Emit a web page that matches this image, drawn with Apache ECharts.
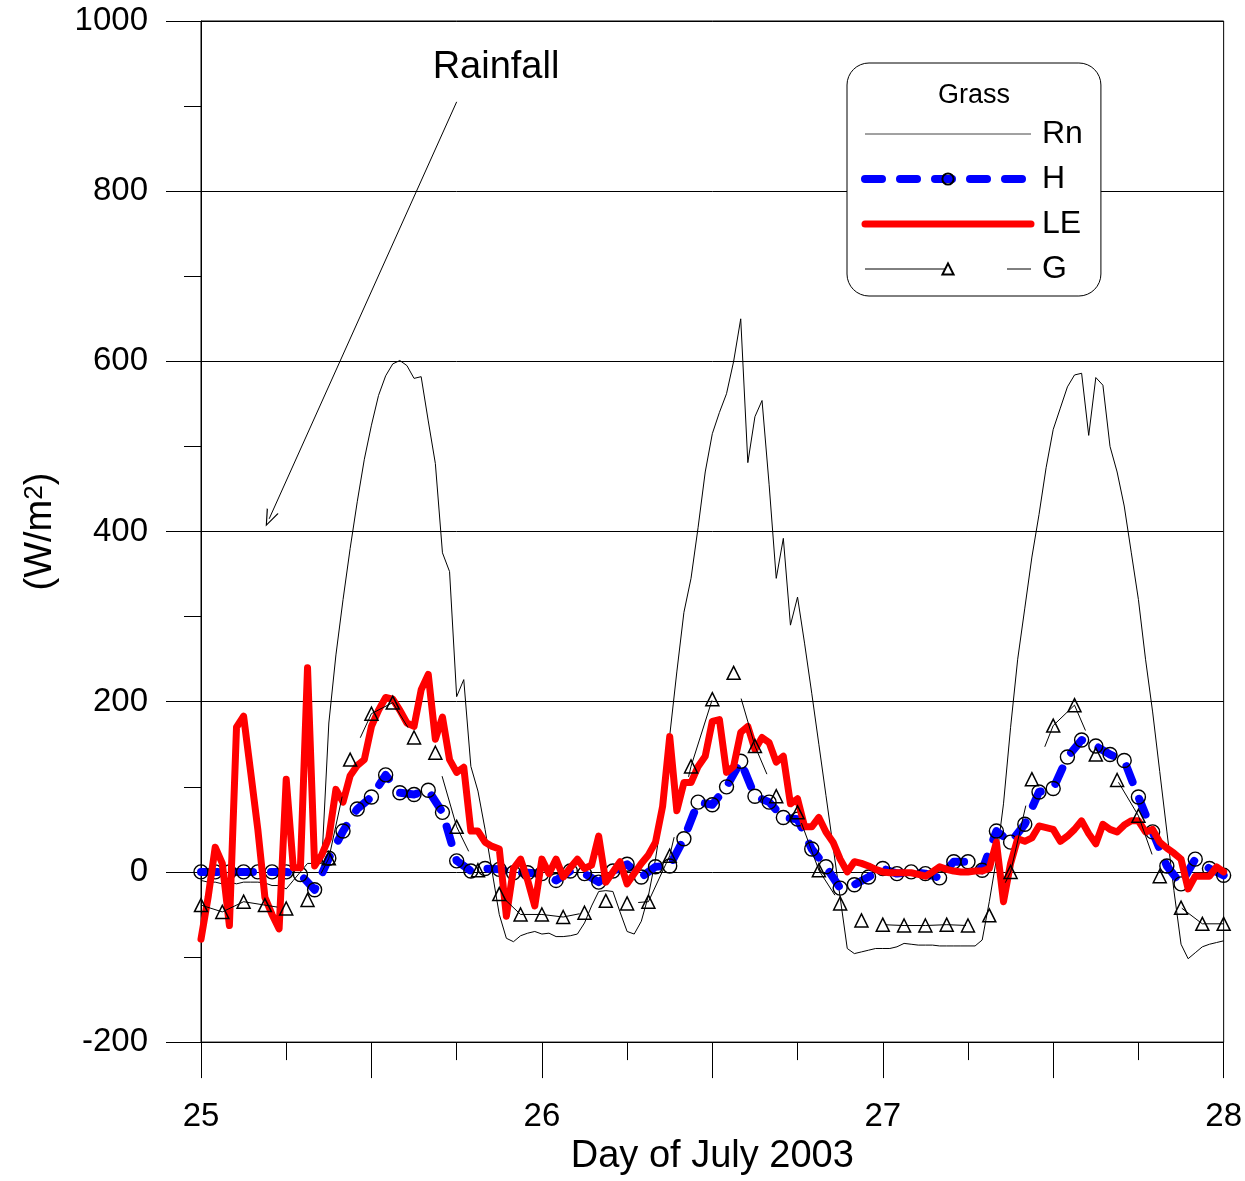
<!DOCTYPE html>
<html>
<head>
<meta charset="utf-8">
<title>Grass energy balance, July 2003</title>
<script src="https://cdn.jsdelivr.net/npm/echarts@6.0.0/dist/echarts.min.js"></script>
<style>
  html, body { margin: 0; padding: 0; background: #fff; }
  #chart { width: 1245px; height: 1181px; }
</style>
</head>
<body>
<div id="chart"></div>
<script>
// Day of July 2003, fluxes in W/m2
const dayStart = 25;
const xTicks = [25, 26, 27, 28];

// Rn and LE: half-hourly from 25.0 to 28.0
const rnValues = [
  -10, -12, -12, -14, -12, -14, -12, -12, -12, -13, -16, -16, -20, -10, 0, 10, 10, 10, 175, 255,
  320, 380, 435, 485, 525, 560, 583, 597, 601, 595, 580, 582, 530, 480, 375, 353, 206, 226, 124, 95,
  50, 0, -50, -78, -82, -75, -72, -70,
  -73, -72, -76, -76, -75, -73, -60, -40, -23, -22, -23, -47, -70, -73, -58, -28, 15, 70, 160, 235,
  305, 345, 405, 470, 515, 540, 562, 600, 650, 481, 535, 554, 455, 345, 392, 290, 323, 268, 210, 150,
  90, 30, -30, -90, -96, -94, -92, -90,
  -90, -90, -88, -84, -85, -86, -86, -86, -87, -87, -87, -87, -87, -87, -80, -35, 15, 80, 170, 250,
  310, 370, 420, 475, 520, 545, 570, 584, 586, 513, 581, 572, 500, 470, 430, 375, 320, 250, 188, 118,
  48, -22, -85, -102, -95, -88, -85, -83, -81
];
const leValues = [
  -79, -30, 29, 10, -63, 170, 183, 117, 50, -30, -50, -67, 109, 5, 5, 240, 7, 20, 40, 97,
  82, 113, 125, 132, 171, 190, 205, 203, 190, 175, 171, 214, 232, 156, 182, 132, 117, 123, 48, 48,
  35, 30, 27, -52, 4, 15, -10, -40,
  15, -2, 15, -6, 5, 15, 4, 8, 42, -12, 0, 12, -14, -2, 10, 20, 35, 77, 159, 72,
  105, 105, 124, 136, 177, 179, 117, 124, 164, 171, 144, 158, 152, 129, 136, 80, 86, 53, 53, 64,
  47, 35, 15, 0, 12, 10, 7, 3,
  0, -1, -1, -1, -1, -3, -5, 0, 6, 3, 1, 0, 0, 1, 1, 4, 35, -35, 10, 39,
  36, 40, 54, 52, 50, 36, 42, 50, 60, 45, 33, 56, 50, 47, 55, 60, 60, 47, 50, 35,
  28, 22, 15, -20, -5, -5, -5, 6, 0
];
// H: hourly
const hValues = [
  0, 0, 0, 0, 0, 0, 0, -3, -21, 16, 48, 74, 88, 114, 93, 91, 96, 70, 13, 1, 4, 3, -1, -1,
  -2, -10, 1, -2, -12, 1, 9, -6, 6, 7, 39, 82, 79, 100, 130, 89, 82, 64, 62, 27, 6, -19, -15, -6,
  4, -2, 0, -2, -7, 12, 12, 2, 48, 35, 56, 94, 98, 135, 155, 148, 138, 131, 88, 47, 7, -14, 15, 4, -4
];
// G: every 1.5 hours
const gValues = [
  -39, -47, -35, -39, -43, -33, 16, 132, 186, 199, 158, 140, 53, 2, -26, -50,
  -50, -53, -48, -34, -37, -35, 19, 124, 203, 234, 148, 89, 70, 2, -37, -57,
  -62, -63, -63, -62, -63, -51, 0, 109, 172, 196, 138, 108, 66, -5, -42, -61, -61
];
// rainfall arrow, from label to target (day, W/m2)
const rainArrow = [[25.75, 905], [25.2, 415]];

const toPairs = (vals, perDay) => vals.map((v, i) => [dayStart + i / perDay, v]);

const font = "'Liberation Sans', Arial, sans-serif";
const chart = echarts.init(document.getElementById('chart'));

const option = {
  animation: false,
  backgroundColor: '#fff',
  textStyle: { fontFamily: font, color: '#000' },
  grid: {
    left: 201, right: 21, top: 21, bottom: 136,
    show: true, borderColor: '#000', borderWidth: 1, backgroundColor: 'transparent'
  },
  xAxis: {
    type: 'value',
    min: 25, max: 28, interval: 0.5,
    name: 'Day of July 2003',
    nameLocation: 'middle',
    nameGap: 95,
    nameTextStyle: { fontSize: 38, fontFamily: font, color: '#000' },
    axisLine: { show: true, onZero: false, lineStyle: { color: '#000', width: 1 } },
    axisTick: { show: true, length: 36, lineStyle: { color: '#000' } },
    minorTick: { show: true, splitNumber: 2, length: 18, lineStyle: { color: '#000' } },
    splitLine: { show: false },
    axisLabel: {
      fontSize: 33, fontFamily: font, color: '#000', margin: 58,
      formatter: v => (xTicks.indexOf(v) >= 0 ? String(v) : '')
    }
  },
  yAxis: {
    type: 'value',
    min: -200, max: 1000, interval: 200,
    name: '(W/m{sup|2})',
    nameLocation: 'middle',
    nameRotate: 90,
    nameGap: 141,
    nameTextStyle: {
      fontSize: 38, fontFamily: font, color: '#000',
      rich: { sup: { fontSize: 26, fontFamily: font, color: '#000', verticalAlign: 'top' } }
    },
    axisLine: { show: true, lineStyle: { color: '#000', width: 1 } },
    axisTick: { show: true, length: 35, lineStyle: { color: '#000' } },
    minorTick: { show: true, splitNumber: 2, length: 17, lineStyle: { color: '#000' } },
    splitLine: { show: true, lineStyle: { color: '#000', width: 1 } },
    axisLabel: { fontSize: 33, fontFamily: font, color: '#000', margin: 53, formatter: v => String(v) }
  },
  legend: {
    data: [
      { name: 'Rn', itemStyle: { opacity: 0 }, lineStyle: { width: 1, color: '#444' } },
      { name: 'H', lineStyle: { width: 8 } },
      { name: 'LE', itemStyle: { opacity: 0 }, lineStyle: { width: 7 } },
      { name: 'G', lineStyle: { width: 1 } }
    ],
    orient: 'vertical',
    left: 847, top: 63,
    padding: [55, 18, 11, 14],
    itemWidth: 166, itemHeight: 14, itemGap: 13,
    selectedMode: false,
    backgroundColor: '#fff',
    borderColor: '#000', borderWidth: 1, borderRadius: 22,
    textStyle: { fontSize: 32, fontFamily: font, color: '#000', padding: [0, 0, 0, 6] }
  },
  graphic: [
    { type: 'text', x: 974, y: 96, z: 100,
      style: { text: 'Grass', fontSize: 27, fontFamily: font, fill: '#000', align: 'center', verticalAlign: 'middle' } },
    { type: 'text', x: 496, y: 68, z: 100,
      style: { text: 'Rainfall', fontSize: 38, fontFamily: font, fill: '#000', align: 'center', verticalAlign: 'middle' } }
  ],
  series: [
    {
      name: 'Rn', type: 'line', z: 1,
      data: toPairs(rnValues, 48),
      symbol: 'none',
      lineStyle: { color: '#000', width: 1 },
      itemStyle: { color: '#000' },
      markLine: {
        silent: true,
        symbol: ['none', 'path://M0,0 L6,14 L4.8,14 L0,2.6 L-4.8,14 L-6,14 Z'],
        symbolSize: [13, 17],
        label: { show: false },
        lineStyle: { color: '#000', width: 1, type: 'solid' },
        data: [[{ coord: rainArrow[0] }, { coord: rainArrow[1] }]]
      }
    },
    {
      name: 'H', type: 'line', z: 2,
      data: toPairs(hValues, 24),
      symbol: 'circle', symbolSize: 14, showAllSymbol: true,
      lineStyle: { color: '#0000ff', width: 8, type: [17, 18], cap: 'round', join: 'round' },
      itemStyle: { color: 'rgba(0,0,0,0)', borderColor: '#000', borderWidth: 1.4 }
    },
    {
      name: 'LE', type: 'line', z: 3,
      data: toPairs(leValues, 48),
      symbol: 'none',
      lineStyle: { color: '#ff0000', width: 7, join: 'round', cap: 'round' },
      itemStyle: { color: '#ff0000' }
    },
    {
      name: 'G', type: 'line', z: 4,
      data: toPairs(gValues, 16),
      symbol: 'triangle', symbolSize: 13, showAllSymbol: true,
      lineStyle: { color: '#000', width: 1, type: [80, 62] },
      itemStyle: { color: 'rgba(0,0,0,0)', borderColor: '#000', borderWidth: 1.5 }
    }
  ]
};

chart.setOption(option);
</script>
</body>
</html>
